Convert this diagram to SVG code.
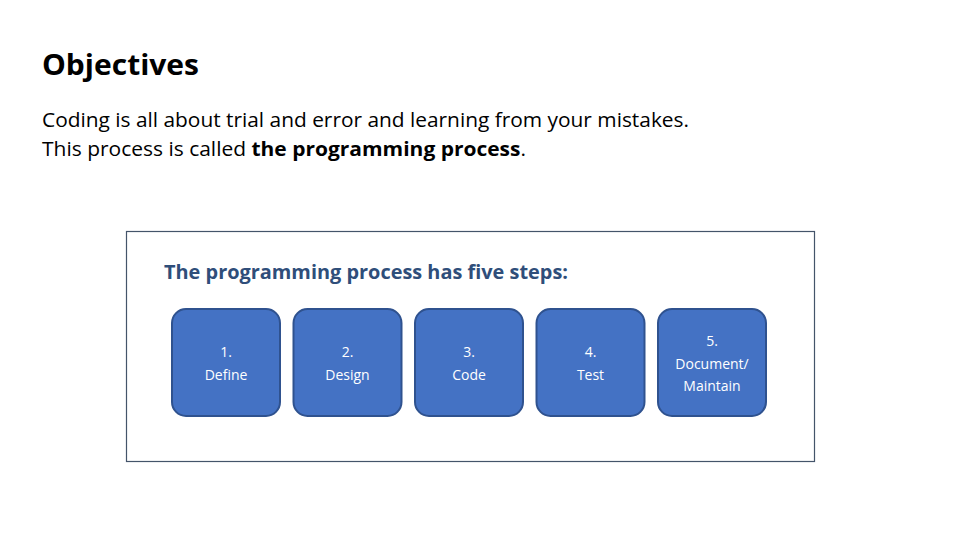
<svg xmlns="http://www.w3.org/2000/svg" width="960" height="540" viewBox="0 0 960 540">
<style>
.t{font-family:"Open Sans","Liberation Sans",sans-serif;fill:#000}
.box{fill:#4472C4;stroke:#2F528F;stroke-width:2}
.bl{font-family:"Open Sans","Liberation Sans",sans-serif;font-size:14px;fill:#fff;text-anchor:middle}
</style>
<rect width="960" height="540" fill="#fff"/>
<text class="t" x="42" y="75" font-size="29" font-weight="bold" textLength="157" lengthAdjust="spacingAndGlyphs">Objectives</text>
<text class="t" x="42" y="127" font-size="19.5" textLength="647" lengthAdjust="spacingAndGlyphs">Coding is all about trial and error and learning from your mistakes.</text>
<text class="t" x="42" y="156" font-size="19.5" textLength="484" lengthAdjust="spacingAndGlyphs">This process is called <tspan font-weight="bold">the programming process</tspan>.</text>
<rect x="126.5" y="231.5" width="688" height="230" fill="#fff" stroke="#44546A" stroke-width="1.2"/>
<text x="164" y="279" font-family="Open Sans,Liberation Sans,sans-serif" font-size="19.5" font-weight="bold" fill="#2F4E7A" textLength="404" lengthAdjust="spacingAndGlyphs">The programming process has five steps:</text>
<g id="connectors"/>
<g id="n1"><rect class="box" x="172" y="309" width="108" height="107" rx="14"/><text class="bl" x="226" y="357">1.</text><text class="bl" x="226" y="380">Define</text></g>
<g id="n2"><rect class="box" x="293.5" y="309" width="108" height="107" rx="14"/><text class="bl" x="347.5" y="357">2.</text><text class="bl" x="347.5" y="380">Design</text></g>
<g id="n3"><rect class="box" x="415" y="309" width="108" height="107" rx="14"/><text class="bl" x="469" y="357">3.</text><text class="bl" x="469" y="380">Code</text></g>
<g id="n4"><rect class="box" x="536.5" y="309" width="108" height="107" rx="14"/><text class="bl" x="590.5" y="357">4.</text><text class="bl" x="590.5" y="380">Test</text></g>
<g id="n5"><rect class="box" x="658" y="309" width="108" height="107" rx="14"/><text class="bl" x="712" y="346">5.</text><text class="bl" x="712" y="369">Document/</text><text class="bl" x="712" y="391">Maintain</text></g>
</svg>
